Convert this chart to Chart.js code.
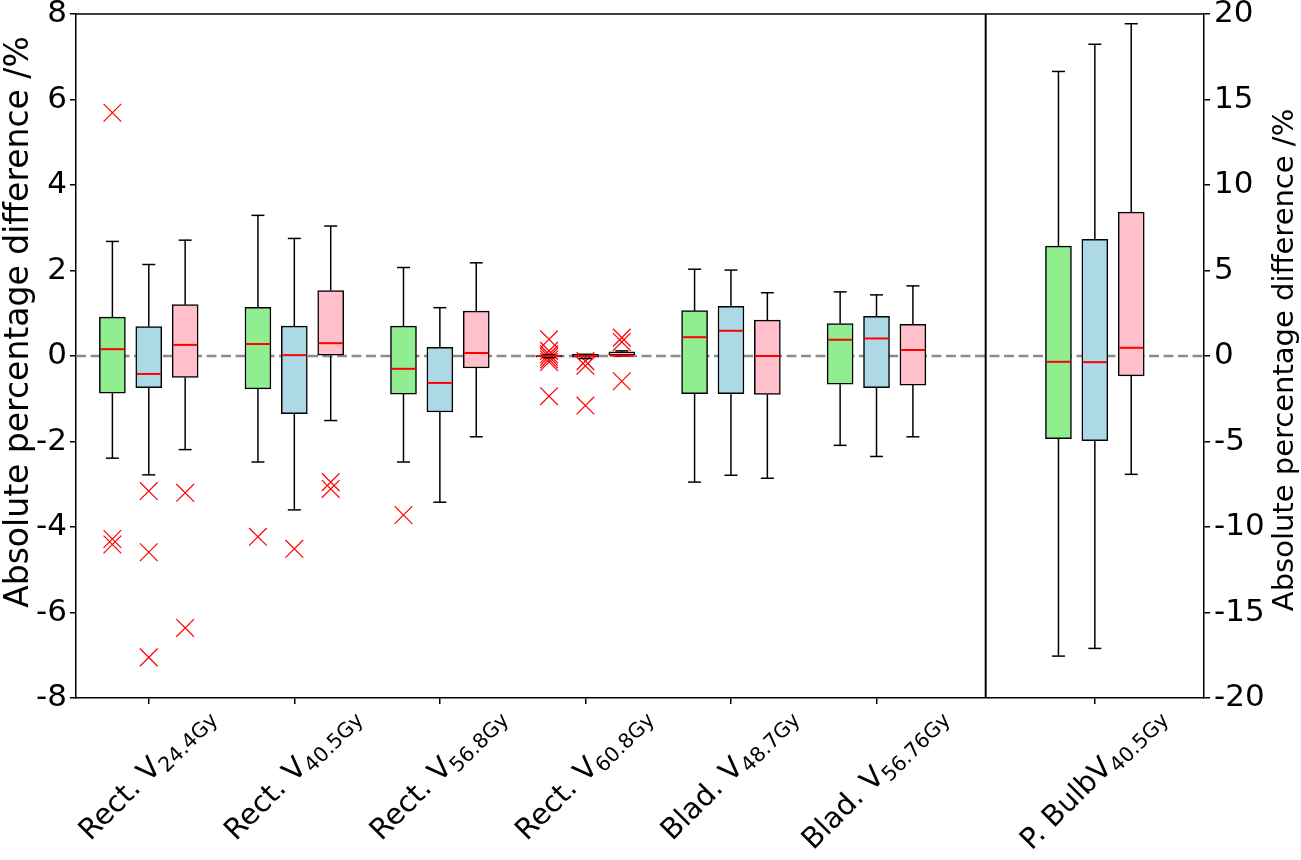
<!DOCTYPE html>
<html>
<head>
<meta charset="utf-8">
<script src="https://cdn.jsdelivr.net/npm/chart.js@4.4.1/dist/chart.umd.min.js"></script>
<style>
  html, body { margin: 0; padding: 0; background: #fff; }
  #wrap { width: 1301px; height: 860px; }
</style>
</head>
<body>
<div id="wrap"><canvas id="chart" width="1301" height="860"></canvas></div>
<script>
// category labels: main text + subscript
const categories = ['Rect. V', 'Rect. V', 'Rect. V', 'Rect. V', 'Blad. V', 'Blad. V', 'P. BulbV'];
const subscripts = ['24.4Gy', '40.5Gy', '56.8Gy', '60.8Gy', '48.7Gy', '56.76Gy', '40.5Gy'];
const leftTicks = [-8, -6, -4, -2, 0, 2, 4, 6, 8];
const rightTicks = [-20, -15, -10, -5, 0, 5, 10, 15, 20];
const yTitle = 'Absolute percentage difference /%';

// last category (P. Bulb) is read on the right axis
const greenLow  = [-2.39, -2.48, -2.48, -0.04, -2.95, -2.09, -17.55];
const greenQ1   = [-0.87, -0.77, -0.89, -0.02, -0.88, -0.66, -4.84];
const greenMed  = [ 0.16,  0.28, -0.30,  0.00,  0.44,  0.38, -0.34];
const greenQ3   = [ 0.91,  1.14,  0.70,  0.01,  1.06,  0.76,  6.43];
const greenHigh = [ 2.68,  3.29,  2.07,  0.03,  2.03,  1.50, 16.64];
const greenOut  = [[5.69, -4.28, -4.41], [-4.23], [-3.72], [0.39, 0.12, 0.04, -0.02, -0.08, -0.14, -0.94], [], [], []];

const blueLow  = [-2.78, -3.60, -3.42, -0.06, -2.79, -2.35, -17.10];
const blueQ1   = [-0.74, -1.35, -1.31, -0.03, -0.88, -0.74, -4.95];
const blueMed  = [-0.42,  0.02, -0.63,  0.00,  0.59,  0.41, -0.36];
const blueQ3   = [ 0.69,  0.70,  0.20,  0.04,  1.16,  0.93,  6.82];
const blueHigh = [ 2.14,  2.75,  1.13,  0.04,  2.01,  1.43, 18.23];
const blueOut  = [[-3.16, -4.59, -7.05], [-4.51], [], [-0.12, -0.23, -1.16], [], [], []];

const pinkLow  = [-2.19, -1.51, -1.89, 0.00, -2.86, -1.89, -6.92];
const pinkQ1   = [-0.50,  0.00, -0.28, 0.00, -0.90, -0.68, -1.16];
const pinkMed  = [ 0.26,  0.30,  0.07, 0.01,  0.00,  0.14,  0.48];
const pinkQ3   = [ 1.20,  1.53,  1.05, 0.10,  0.84,  0.74,  8.41];
const pinkHigh = [ 2.71,  3.04,  2.18, 0.12,  1.48,  1.64, 19.43];
const pinkOut  = [[-3.20, -6.36], [-2.95, -3.11], [], [0.43, 0.33, -0.59], [], [], []];

const series = [
  { low: greenLow, q1: greenQ1, med: greenMed, q3: greenQ3, high: greenHigh, out: greenOut, fill: '#90ee90' },
  { low: blueLow, q1: blueQ1, med: blueMed, q3: blueQ3, high: blueHigh, out: blueOut, fill: '#add8e6' },
  { low: pinkLow, q1: pinkQ1, med: pinkMed, q3: pinkQ3, high: pinkHigh, out: pinkOut, fill: '#ffc0cb' }
];

const FONT = 'DejaVu Sans';
const leftCount = 6;                 // categories in the left panel
const offsets = [-0.25, 0, 0.25];
const pos = i => i + 1 + (i >= leftCount ? 0.5 : 0);
const axisFor = i => (i < leftCount ? 'y' : 'y2');
const BOX_W = 26;

const datasets = [];
series.forEach((s, k) => {
  const idx = categories.map((c, i) => i);
  const left = idx.filter(i => i < leftCount);
  const right = idx.filter(i => i >= leftCount);
  [[left, 'y'], [right, 'y2']].forEach(([ids, axis]) => {
    datasets.push({
      type: 'bar',
      yAxisID: axis,
      data: ids.map(i => ({ x: pos(i) + offsets[k], y: [s.q1[i], s.q3[i]] })),
      backgroundColor: s.fill,
      borderColor: '#000',
      borderWidth: 1.5,
      borderSkipped: false,
      grouped: false,
      barThickness: BOX_W,
      maxBarThickness: BOX_W,
      order: 2
    });
  });
  const pts = [];
  s.out.forEach((vals, i) => vals.forEach(v => pts.push({ x: pos(i) + offsets[k], y: v, axis: axisFor(i) })));
  ['y', 'y2'].forEach(axis => {
    const d = pts.filter(p => p.axis === axis).map(p => ({ x: p.x, y: p.y }));
    if (!d.length) return;
    datasets.push({
      type: 'scatter',
      yAxisID: axis,
      data: d,
      pointStyle: 'crossRot',
      pointRadius: 12.5,
      pointBorderColor: '#ff0000',
      pointBackgroundColor: '#ff0000',
      pointBorderWidth: 1.2,
      order: 1
    });
  });
});

const line = (ctx, x1, y1, x2, y2) => {
  ctx.beginPath();
  ctx.moveTo(x1, y1);
  ctx.lineTo(x2, y2);
  ctx.stroke();
};

const boxParts = {
  id: 'boxParts',
  beforeDatasetsDraw(chart) {
    const { ctx, chartArea, scales } = chart;
    const y0 = scales.y.getPixelForValue(0);
    ctx.save();
    ctx.strokeStyle = '#8c8c8c';
    ctx.lineWidth = 2.5;
    ctx.setLineDash([10, 4.5]);
    line(ctx, chartArea.left, y0, chartArea.right, y0);
    ctx.restore();
  },
  afterDatasetsDraw(chart) {
    const { ctx, chartArea, scales } = chart;
    const xs = scales.x;
    ctx.save();
    series.forEach((s, k) => {
      categories.forEach((c, i) => {
        const ys = scales[axisFor(i)];
        const cx = xs.getPixelForValue(pos(i) + offsets[k]);
        const py = v => ys.getPixelForValue(v);
        ctx.strokeStyle = '#000';
        ctx.lineWidth = 1.5;
        line(ctx, cx, py(s.q1[i]), cx, py(s.low[i]));
        line(ctx, cx, py(s.q3[i]), cx, py(s.high[i]));
        line(ctx, cx - BOX_W / 4, py(s.low[i]), cx + BOX_W / 4, py(s.low[i]));
        line(ctx, cx - BOX_W / 4, py(s.high[i]), cx + BOX_W / 4, py(s.high[i]));
        ctx.strokeStyle = '#ff0000';
        ctx.lineWidth = 2;
        line(ctx, cx - BOX_W / 2 + 1, py(s.med[i]), cx + BOX_W / 2 - 1, py(s.med[i]));
      });
    });
    // panel separator and top frame
    ctx.strokeStyle = '#000';
    ctx.lineWidth = 2;
    const sx = xs.getPixelForValue((pos(leftCount - 1) + pos(leftCount)) / 2);
    line(ctx, sx, chartArea.top, sx, chartArea.bottom);
    ctx.lineWidth = 1.5;
    line(ctx, chartArea.left, chartArea.top, chartArea.right, chartArea.top);
    ctx.restore();
  },
  afterDraw(chart) {
    const { ctx, chartArea, scales } = chart;
    const xs = scales.x;
    ctx.save();
    ctx.fillStyle = '#000';
    ctx.textBaseline = 'alphabetic';
    ctx.textAlign = 'left';
    // rotated category labels with subscripts, centred on each tick
    const F = 29, f = 20.5, shift = 6;
    const top = chartArea.bottom + 4;
    categories.forEach((main, i) => {
      ctx.font = F + 'px "' + FONT + '"';
      const wMain = ctx.measureText(main).width;
      ctx.font = f + 'px "' + FONT + '"';
      const wSub = ctx.measureText(subscripts[i]).width;
      const w = wMain + wSub, a = 0.73 * F, d = shift + 0.24 * f;
      const tx = xs.getPixelForValue(pos(i));
      const ox = tx - 0.3536 * (w + d - a);
      const oy = top + 0.7071 * (w + a);
      ctx.save();
      ctx.translate(ox, oy);
      ctx.rotate(-Math.PI / 4);
      ctx.font = F + 'px "' + FONT + '"';
      ctx.fillText(main, 0, 0);
      ctx.font = f + 'px "' + FONT + '"';
      ctx.fillText(subscripts[i], wMain, shift);
      ctx.restore();
    });
    // axis titles, both reading bottom to top
    ctx.textAlign = 'center';
    ctx.textBaseline = 'middle';
    ctx.save();
    ctx.translate(19, 322);
    ctx.rotate(-Math.PI / 2);
    ctx.font = '33px "' + FONT + '"';
    ctx.fillText(yTitle, 0, 0);
    ctx.restore();
    ctx.save();
    ctx.translate(1285, 360);
    ctx.rotate(-Math.PI / 2);
    ctx.font = '29px "' + FONT + '"';
    ctx.fillText(yTitle, 0, 0);
    ctx.restore();
    ctx.restore();
  }
};

const tickFont = { family: FONT, size: 31 };
const axisGrid = { drawOnChartArea: false, drawTicks: true, tickLength: 6, color: '#000', lineWidth: 1.5, offset: false };

new Chart(document.getElementById('chart'), {
  type: 'bar',
  data: { datasets },
  options: {
    responsive: false,
    animation: false,
    devicePixelRatio: 1,
    layout: { padding: { top: 14, left: 0, right: 0, bottom: 0 } },
    plugins: { legend: { display: false }, tooltip: { enabled: false } },
    scales: {
      x: {
        type: 'linear',
        offset: false,
        min: 0.5,
        max: 8.25,
        grid: axisGrid,
        border: { display: true, color: '#000', width: 1.5 },
        ticks: { callback: () => '', maxRotation: 0 },
        afterBuildTicks: s => { s.ticks = categories.map((c, i) => ({ value: pos(i) })); },
        afterFit: s => { s.height = 162; s.paddingLeft = 0; s.paddingRight = 0; }
      },
      y: {
        type: 'linear',
        position: 'left',
        min: -8,
        max: 8,
        grid: axisGrid,
        border: { display: true, color: '#000', width: 1.5 },
        ticks: { font: tickFont, color: '#000', padding: 3 },
        afterBuildTicks: s => { s.ticks = leftTicks.map(v => ({ value: v })); },
        afterFit: s => { s.width = 76; s.paddingTop = 0; s.paddingBottom = 0; }
      },
      y2: {
        type: 'linear',
        position: 'right',
        min: -20,
        max: 20,
        grid: axisGrid,
        border: { display: true, color: '#000', width: 1.5 },
        ticks: { font: tickFont, color: '#000', padding: 4 },
        afterBuildTicks: s => { s.ticks = rightTicks.map(v => ({ value: v })); },
        afterFit: s => { s.width = 97; s.paddingTop = 0; s.paddingBottom = 0; }
      }
    }
  },
  plugins: [boxParts]
});
</script>
</body>
</html>
